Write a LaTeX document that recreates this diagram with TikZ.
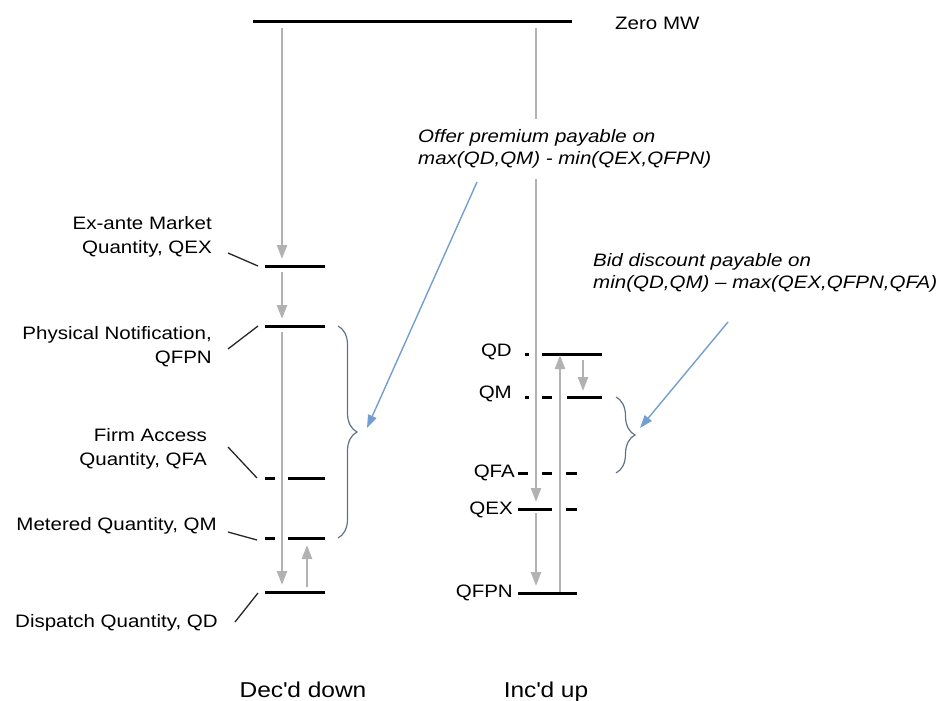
\documentclass[tikz,border=0pt]{standalone}
\usepackage{fontspec}
\setmainfont{Liberation Sans}[FakeStretch=1.14]
\usepackage{tikz}
\usetikzlibrary{arrows.meta,decorations.pathreplacing}
\definecolor{arrowgray}{RGB}{178,178,178}
\definecolor{noteblue}{RGB}{114,159,207}
\definecolor{bracegray}{RGB}{95,115,135}
\tikzset{
  level/.style={line width=3pt,draw=black},
  move/.style={-{Triangle[length=14pt,width=10pt]},line width=2.4pt,draw=arrowgray,
               shorten <=6pt,shorten >=7pt},
  lead/.style={line width=1.3pt,draw=black!85},
  note/.style={-{Triangle[length=13pt,width=9pt]},line width=1.4pt,draw=noteblue},
  brace/.style={decorate,decoration={brace,amplitude=19pt},line width=1.2pt,draw=bracegray},
  lbl/.style={align=right,anchor=east,inner sep=0pt,font=\fontsize{18}{24}\selectfont},
  qty/.style={anchor=east,inner sep=0pt,font=\fontsize{18}{24}\selectfont},
  memo/.style={align=left,anchor=west,inner xsep=0pt,font=\fontsize{18}{22}\selectfont\itshape},
  side/.style={anchor=base,inner sep=0pt,font=\fontsize{21.5}{26}\selectfont}
}

\begin{document}
\begin{tikzpicture}[x=1pt,y=-1pt]
  \useasboundingbox (0,0) rectangle (951,701);

  % zero line
  \draw[level] (253,22) -- (572,22);
  \node[anchor=west,inner sep=0pt,font=\fontsize{18}{24}\selectfont] (zero) at (615,23) {Zero MW};

  % level points
  \coordinate (zl) at (282,22);
  \coordinate (lqex) at (282,266);
  \coordinate (lqfpn) at (282,326);
  \coordinate (lqd) at (282,592);
  \coordinate (lqdup) at (307,592);
  \coordinate (lqmup) at (307,538);
  \coordinate (zr) at (536,22);
  \coordinate (rqex) at (536,509);
  \coordinate (rqfpn) at (536,593);
  \coordinate (rqfpnup) at (560,593);
  \coordinate (rqdup) at (560,354);
  \coordinate (rqddn) at (583,354);
  \coordinate (rqmdn) at (583,397);

  % Dec'd down levels
  \draw[level] (265,266) -- (325,266);
  \draw[level] (265,326) -- (325,326);
  \draw[level] (265,478) -- (275,478) (288,478) -- (325,478);
  \draw[level] (265,538) -- (275,538) (288,538) -- (325,538);
  \draw[level] (265,592) -- (325,592);

  % Inc'd up levels
  \draw[level] (525,354) -- (529,354) (542,354) -- (602,354);
  \draw[level] (525,397) -- (529,397) (542,397) -- (552,397) (567,397) -- (602,397);
  \draw[level] (518,473) -- (528,473) (542,473) -- (552,473) (566,473) -- (577,473);
  \draw[level] (518,509) -- (552,509) (566,509) -- (577,509);
  \draw[level] (518,593) -- (577,593);

  % movements
  \draw[move] (zl) -- (lqex);
  \draw[move] (lqex) -- (lqfpn);
  \draw[move] (lqfpn) -- (lqd);
  \draw[move,shorten <=5pt] (lqdup) -- (lqmup);
  \draw[move] (zr) -- (rqex);
  \draw[move,shorten <=4pt] (rqex) -- (rqfpn);
  \draw[move,shorten >=1pt,shorten <=1pt] (rqfpnup) -- (rqdup);
  \draw[move,shorten <=6pt,shorten >=6pt] (rqddn) -- (rqmdn);

  % left labels
  \node[lbl] (exante) at (212,237) {Ex-ante Market\\Quantity, QEX};
  \node[lbl] (physnote) at (212,347) {Physical Notification,\\QFPN};
  \node[lbl] (firmacc) at (207,449) {Firm Access\\Quantity, QFA};
  \node[lbl] (metered) at (217,526) {Metered Quantity, QM};
  \node[lbl] (dispatch) at (218,623) {Dispatch Quantity, QD};

  \coordinate (exanteend) at (258,266);
  \coordinate (physend) at (258,326);
  \coordinate (firmend) at (257,478);
  \coordinate (meterend) at (257,540);
  \coordinate (dispend) at (258,593);
  \draw[lead] ([xshift=16pt,yshift=-16pt]exante.east) -- (exanteend);
  \draw[lead] ([xshift=16pt,yshift=-2pt]physnote.east) -- (physend);
  \draw[lead] ([xshift=21pt,yshift=2pt]firmacc.east) -- (firmend);
  \draw[lead] ([xshift=11pt,yshift=-6pt]metered.east) -- (meterend);
  \draw[lead] ([xshift=17pt,yshift=1pt]dispatch.east) -- (dispend);

  % right labels
  \node[qty] (rqd) at (512,352) {QD};
  \node[qty] (rqm) at (512,394) {QM};
  \node[qty] (rqfa) at (515,473) {QFA};
  \node[qty] (rqe) at (513,510) {QEX};
  \node[qty] (rqfp) at (513,593) {QFPN};

  % notes and braces
  \node[memo,fill=white,inner ysep=11pt] (offer) at (418,149)
     {Offer premium payable on\\max(QD,QM) - min(QEX,QFPN)};
  \node[memo,inner ysep=0pt] (bid) at (593,273)
     {Bid discount payable on\\min(QD,QM) -- max(QEX,QFPN,QFA)};

  \draw[brace] (338,326) -- (338,538);
  \draw[brace] (616,397) -- (616,473);

  \coordinate (offertail) at (477,182);
  \coordinate (bracetipl) at (367,428);
  \coordinate (bidtail) at (728,322);
  \coordinate (bracetipr) at (640,428);
  \draw[note] (offertail) -- (bracetipl);
  \draw[note] (bidtail) -- (bracetipr);

  % column captions
  \node[side] (decd) at (303,697) {Dec\textquotesingle d down};
  \node[side] (incd) at (546,697) {Inc\textquotesingle d up};
\end{tikzpicture}
\end{document}
